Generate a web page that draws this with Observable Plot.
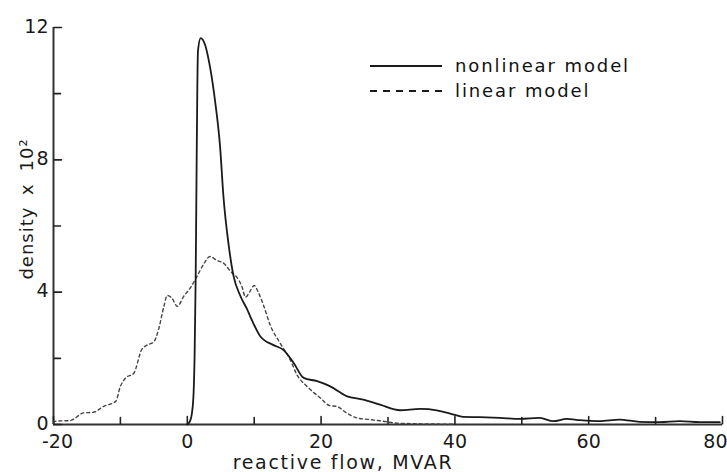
<!DOCTYPE html>
<html><head><meta charset="utf-8">
<script src="https://cdn.jsdelivr.net/npm/d3@7"></script>
<script src="https://cdn.jsdelivr.net/npm/@observablehq/plot@0.6"></script>
<style>
body{margin:0;background:#fff;}
#wrap{position:relative;width:727px;height:472px;font-family:"DejaVu Sans",sans-serif;color:#111;}
#legend{position:absolute;left:370px;top:53px;font-size:18px;letter-spacing:1.9px;}
#legend .row{display:flex;align-items:center;height:25px;}
#legend svg{margin-right:13px;}
</style></head><body><div id="wrap"><div id="legend"></div></div>
<script>
// reactive flow (MVAR) and density (x 10^-2) for each model
const nonlinearX = [0.0, 0.4, 0.7, 0.95, 1.1, 1.25, 1.4, 1.5, 1.6, 2.0, 2.7, 3.4, 4.2, 4.9, 5.4, 6.2, 6.9, 7.9, 8.9, 9.4, 10.9, 12.9, 14.4, 15.9, 17.4, 19.4, 21.3, 23.8, 26.3, 28.8, 31.8, 34.8, 37.3, 39.8, 41.2, 43.7, 46.7, 49.7, 52.7, 54.7, 56.7, 58.7, 61.6, 64.6, 67.6, 70.6, 73.6, 76.6, 79.6];
const nonlinearY = [0.0, 0.1, 0.35, 1.0, 2.2, 4.4, 8.0, 10.2, 11.3, 11.68, 11.45, 10.8, 9.7, 8.4, 6.9, 5.4, 4.5, 3.9, 3.5, 3.27, 2.67, 2.4, 2.25, 1.86, 1.41, 1.31, 1.16, 0.86, 0.75, 0.6, 0.43, 0.47, 0.43, 0.3, 0.23, 0.22, 0.2, 0.17, 0.2, 0.1, 0.17, 0.13, 0.1, 0.15, 0.08, 0.07, 0.1, 0.07, 0.07];
const linearX = [-20, -19.7, -17.5, -15.5, -14, -12.5, -10.7, -10, -9.25, -8, -6.8, -6, -5, -4.3, -3.5, -3, -2.3, -1.5, -0.55, 0.45, 1.45, 2.4, 3.4, 4.4, 5.4, 6.7, 7.2, 8.2, 8.7, 9.3, 10.0, 10.6, 11.4, 12.4, 13.9, 15.4, 16.4, 17.9, 19.9, 21.3, 22.3, 23.8, 25.3, 27.3, 29.3, 31.3, 35, 40];
const linearY = [0.05, 0.1, 0.12, 0.35, 0.37, 0.55, 0.7, 1.15, 1.4, 1.55, 2.27, 2.4, 2.5, 2.87, 3.57, 3.9, 3.82, 3.57, 3.87, 4.13, 4.48, 4.83, 5.08, 4.96, 4.88, 4.58, 4.5, 4.15, 3.85, 4.0, 4.2, 4.0, 3.6, 3.0, 2.45, 1.95, 1.5, 1.15, 0.8, 0.57, 0.55, 0.35, 0.2, 0.15, 0.1, 0.04, 0.02, 0.01];

const xMajorTicks = [-20, 0, 20, 40, 60, 80];
const xMinorTicks = [-10, 10, 30, 50, 70];
const yMajorTicks = [0, 4, 8, 12];
const yMinorTicks = [2, 6, 10];
const seriesNames = ["nonlinear model", "linear model"];
const xLabel = "reactive flow, MVAR";
const yLabel = "density x 10²";

const nonlinear = nonlinearX.map((x, i) => ({x, y: nonlinearY[i]}));
const linear = linearX.map((x, i) => ({x, y: linearY[i]}));
const ink = "#1a1a1a";
const fmt = d => String(d);

const tickStyle = {shape: "spike", r: 0, anchor: "start", stroke: "#222", strokeWidth: 1.6, strokeLinecap: "butt", fill: "none"};

const chart = Plot.plot({
  width: 727, height: 472,
  marginLeft: 53, marginRight: 5, marginTop: 27, marginBottom: 48,
  style: {fontFamily: "DejaVu Sans, sans-serif", fontSize: "18px", color: ink, background: "#fff"},
  x: {domain: [-20, 80], axis: null},
  y: {domain: [0, 12], axis: null},
  marks: [
    Plot.ruleX([-20], {stroke: "#333", strokeWidth: 2}),
    Plot.ruleY([0], {stroke: "#333", strokeWidth: 2}),
    Plot.vector(xMajorTicks, {x: d => d, frameAnchor: "bottom", length: 8, rotate: 0, ...tickStyle}),
    Plot.vector(xMinorTicks, {x: d => d, frameAnchor: "bottom", length: 7, rotate: 0, ...tickStyle}),
    Plot.vector(yMajorTicks, {y: d => d, frameAnchor: "left", length: 8, rotate: 90, ...tickStyle}),
    Plot.vector(yMinorTicks, {y: d => d, frameAnchor: "left", length: 7, rotate: 90, ...tickStyle}),
    Plot.text(xMajorTicks.slice(0, 1), {x: d => d, frameAnchor: "bottom", text: fmt, dy: 10, dx: 4, lineAnchor: "top", fontSize: 19, fill: ink}),
    Plot.text(xMajorTicks.slice(1, -1), {x: d => d, frameAnchor: "bottom", text: fmt, dy: 10, lineAnchor: "top", fontSize: 19, fill: ink}),
    Plot.text(xMajorTicks.slice(-1), {x: d => d, frameAnchor: "bottom", text: fmt, dy: 10, dx: 5, textAnchor: "end", lineAnchor: "top", fontSize: 19, fill: ink}),
    Plot.text(yMajorTicks, {y: d => d, frameAnchor: "left", text: fmt, dx: -5, dy: -1, textAnchor: "end", lineAnchor: "middle", fontSize: 19, fill: ink}),
    Plot.text([xLabel], {frameAnchor: "bottom", text: d => d, dx: -45, dy: 38, lineAnchor: "middle", fontSize: 19, fill: ink}),
    Plot.text([yLabel], {frameAnchor: "left", text: d => d, dx: -26, dy: -17, rotate: -90, textAnchor: "middle", lineAnchor: "middle", fontSize: 18, fill: ink}),
    Plot.line(linear, {x: "x", y: "y", stroke: "#444", strokeWidth: 1.4, strokeDasharray: "3,3", curve: "monotone-x"}),
    Plot.line(nonlinear, {x: "x", y: "y", stroke: ink, strokeWidth: 1.8, curve: "monotone-x"})
  ]
});
d3.select(chart).selectAll("text")
  .filter(function() { return this.textContent === xLabel; })
  .style("letter-spacing", "1.7px");
d3.select(chart).selectAll("text")
  .filter(function() { return this.textContent === yLabel; })
  .style("letter-spacing", "1px").style("word-spacing", "5px");
document.getElementById("wrap").prepend(chart);

const legend = document.getElementById("legend");
const dashes = [null, "7,6"];
seriesNames.forEach((name, i) => {
  const row = document.createElement("div");
  row.className = "row";
  row.innerHTML = `<svg width="72" height="4"><line x1="0" y1="2" x2="72" y2="2" stroke="${ink}" stroke-width="2" ${dashes[i] ? `stroke-dasharray="${dashes[i]}"` : ""}/></svg><span>${name}</span>`;
  legend.appendChild(row);
});
</script>
</body></html>
